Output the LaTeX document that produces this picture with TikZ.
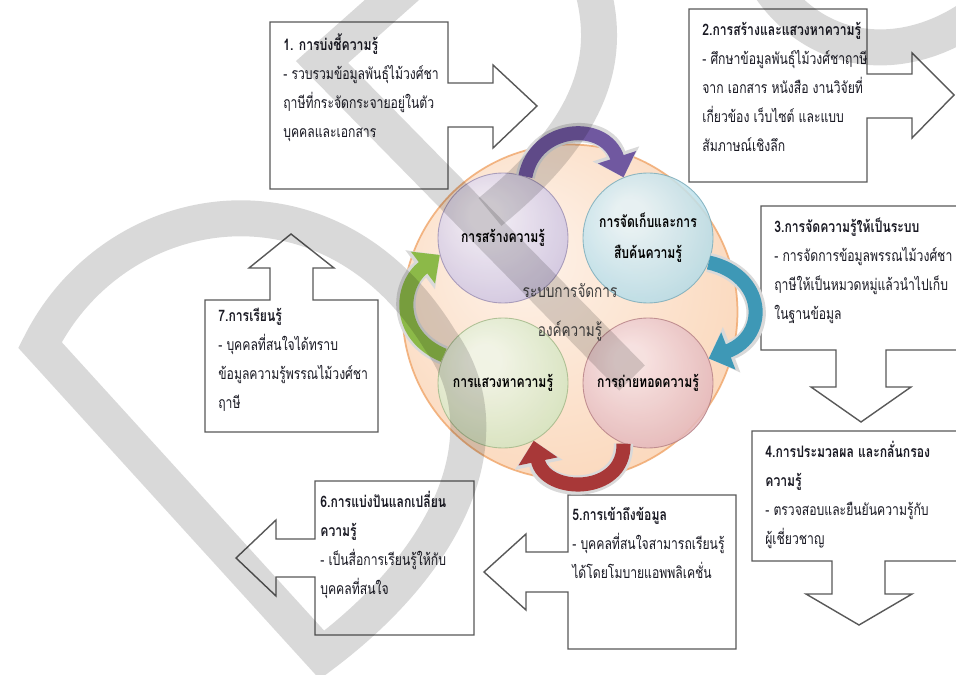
\documentclass[tikz,border=0pt]{standalone}
\usepackage{fontspec}
\setmainfont[Script=Thai,FakeStretch=0.77]{Loma}
\usetikzlibrary{arrows.meta, positioning}
\definecolor{boxline}{RGB}{89,89,89}
\definecolor{notetext}{RGB}{25,25,35}
\definecolor{peachin}{RGB}{253,238,226}
\definecolor{peachout}{RGB}{249,200,160}
\definecolor{peachrim}{RGB}{240,165,105}
\definecolor{lavin}{RGB}{238,234,246}
\definecolor{lavout}{RGB}{180,165,208}
\definecolor{skyin}{RGB}{228,243,248}
\definecolor{skyout}{RGB}{140,200,218}
\definecolor{sagein}{RGB}{240,246,232}
\definecolor{sageout}{RGB}{188,214,158}
\definecolor{rosein}{RGB}{246,225,227}
\definecolor{roseout}{RGB}{212,148,154}
\definecolor{purplearrow}{RGB}{112,88,160}
\definecolor{tealarrow}{RGB}{62,152,182}
\definecolor{redarrow}{RGB}{168,56,56}
\definecolor{greenarrow}{RGB}{140,185,72}
\colorlet{orbin}{white}
\colorlet{orbout}{gray}
\pgfdeclareradialshading[orbin,orbout]{orb}{\pgfpoint{-8bp}{10bp}}{color(0bp)=(orbin); color(6bp)=(orbin); color(50bp)=(orbout)}

\begin{document}
\begin{tikzpicture}[x=0.02cm, y=-0.02cm,
  callout/.style={draw=boxline, line width=0.8pt, fill=white, line join=miter},
  note/.style={anchor=north west, align=left, inner sep=0pt, text=notetext,
               font=\fontsize{9}{16.5}\selectfont},
  orb/.style 2 args={circle, inner sep=0pt, minimum size=2.6cm, align=center,
               /utils/exec={\colorlet{orbin}{#1}\colorlet{orbout}{#2}},
               shade, shading=orb, draw=#2!85!black, line width=0.5pt,
               fill opacity=0.85, draw opacity=0.8, text opacity=1,
               font=\bfseries\fontsize{9}{17.5}\selectfont},
  turn/.style={line width=8pt, draw=#1, -{Triangle[width=22pt,length=12pt]},
               preaction={draw=black!15, line width=11pt, -{Triangle[width=27pt,length=14pt]}}},
  ghost/.style={draw=black, opacity=0.15, line width=0.72cm, line join=miter}
]
\fill[white] (0,0) rectangle (956,675);
\useasboundingbox (0,0) rectangle (956,675);

% boxes with their arrows
\draw[callout] (270,22) -- (448,22) -- (448,83) -- (493,83) -- (493,65) -- (537,106)
  -- (493,148) -- (493,127) -- (448,127) -- (448,189) -- (270,189) -- cycle;
\draw[callout] (689,9) -- (867,9) -- (867,74) -- (912,74) -- (912,53) -- (954,95)
  -- (912,138) -- (912,118) -- (867,118) -- (867,182) -- (689,182) -- cycle;
\draw[callout] (965,206) -- (761,206) -- (761,350) -- (836,350) -- (836,387) -- (811,387)
  -- (861,422) -- (911,387) -- (886,387) -- (886,350) -- (965,350);
\draw[callout] (965,431) -- (752,431) -- (752,561) -- (832,561) -- (832,594) -- (806,594)
  -- (859,625) -- (912,594) -- (885,594) -- (885,561) -- (965,561);
\draw[callout] (568,495) -- (736,495) -- (736,649) -- (568,649) -- (568,592) -- (526,592)
  -- (526,610) -- (484,572) -- (526,534) -- (526,552) -- (568,552) -- cycle;
\draw[callout] (315,481) -- (474,481) -- (474,635) -- (315,635) -- (315,577) -- (276,577)
  -- (276,596) -- (236,558) -- (276,520) -- (276,539) -- (315,539) -- cycle;
\draw[callout] (205,300) -- (270,300) -- (270,268) -- (249,268) -- (291,234) -- (334,268)
  -- (313,268) -- (313,300) -- (378,300) -- (378,432) -- (205,432) -- cycle;

\node[note] (identify) at (283,33) {\textbf{1. การบ่งชี้ความรู้}\\- รวบรวมข้อมูลพันธุ์ไม้วงศ์ชา\\ฤาษีที่กระจัดกระจายอยู่ในตัว\\บุคคลและเอกสาร};
\node[note] (build) at (702,22) {\textbf{2.การสร้างและแสวงหาความรู้}\\- ศึกษาข้อมูลพันธุ์ไม้วงศ์ชาฤาษี\\จาก เอกสาร หนังสือ งานวิจัยที่\\เกี่ยวข้อง เว็บไซต์ และแบบ\\สัมภาษณ์เชิงลึก};
\node[note] (organise) at (774,218) {\textbf{3.การจัดความรู้ให้เป็นระบบ}\\- การจัดการข้อมูลพรรณไม้วงศ์ชา\\ฤาษีให้เป็นหมวดหมู่แล้วนำไปเก็บ\\ในฐานข้อมูล};
\node[note] (refine) at (765,441) {\textbf{4.การประมวลผล และกลั่นกรอง}\\\textbf{ความรู้}\\- ตรวจสอบและยืนยันความรู้กับ\\ผู้เชี่ยวชาญ};
\node[note] (access) at (572,507) {\textbf{5.การเข้าถึงข้อมูล}\\- บุคคลที่สนใจสามารถเรียนรู้\\ได้โดยโมบายแอพพลิเคชั่น};
\node[note] (share) at (320,491) {\textbf{6.การแบ่งปันแลกเปลี่ยน}\\\textbf{ความรู้}\\- เป็นสื่อการเรียนรู้ให้กับ\\บุคคลที่สนใจ};
\node[note] (learn) at (218,308) {\textbf{7.การเรียนรู้}\\- บุคคลที่สนใจได้ทราบ\\ข้อมูลความรู้พรรณไม้วงศ์ชา\\ฤาษี};

% knowledge cycle
\node[orb={peachin}{peachout}, minimum size=6.7cm, draw=peachrim, line width=1pt,
      fill opacity=1] (core) at (570,312) {};
\node[orb={lavin}{lavout}] (create) at (503,238) {การสร้างความรู้};
\node[orb={skyin}{skyout}] (store) at (648,238) {การจัดเก็บและการ\\สืบค้นความรู้};
\node[orb={sagein}{sageout}] (seek) at (503,383) {การแสวงหาความรู้};
\node[orb={rosein}{roseout}] (transfer) at (648,383) {การถ่ายทอดความรู้};
\node[text=black!75, align=center, font=\fontsize{10}{22}\selectfont] (system)
  at (570,312) {ระบบการจัดการ\\องค์ความรู้};

\draw[turn=purplearrow] (create.70) .. controls (535,125) and (605,120) .. (store.112);
\draw[turn=tealarrow] (store.-22) .. controls (765,275) and (770,335) .. (transfer.22);
\draw[turn=redarrow] (transfer.-112) .. controls (625,495) and (545,495) .. (seek.-62);
\draw[turn=greenarrow] (seek.155) .. controls (395,335) and (400,285) .. (create.195);

% watermark strokes
\draw[ghost] (40,345) .. controls (115,195) and (330,160) .. (440,340)
  .. controls (505,430) and (455,555) .. (322,655) -- cycle;
\draw[ghost] (437,-40) -- (322,62) -- (632,378);
\draw[ghost] (590,-20) .. controls (615,60) and (590,130) .. (490,212);
\draw[ghost] (765,-20) .. controls (815,60) and (905,65) .. (975,15);
\end{tikzpicture}
\end{document}
